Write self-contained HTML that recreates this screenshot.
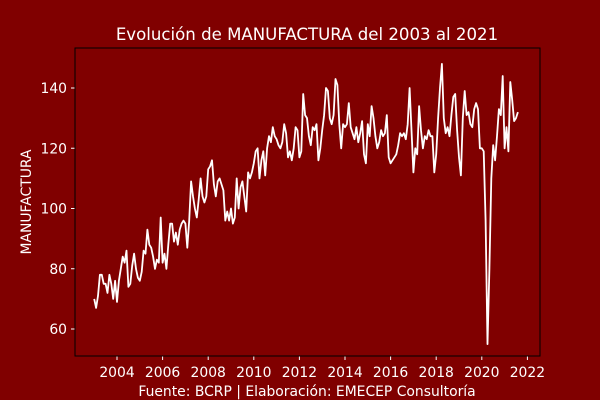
<!DOCTYPE html>
<html><head><meta charset="utf-8"><style>
body{margin:0;background:#800000;}
svg{display:block;font-family:"DejaVu Sans","Liberation Sans",sans-serif;}
</style></head><body>
<svg id="chart" width="600" height="400" viewBox="0 0 600 400">
<rect width="600" height="400" fill="#800000"/>
<text x="307" y="40" fill="#fff" font-size="16.6" text-anchor="middle">Evolución de MANUFACTURA del 2003 al 2021</text>
<text transform="translate(31,202) rotate(-90)" fill="#fff" font-size="13.9" text-anchor="middle">MANUFACTURA</text>
<text x="307" y="396" fill="#fff" font-size="13.9" text-anchor="middle">Fuente: BCRP | Elaboración: EMECEP Consultoría</text>
<g id="ticks"></g>
<polyline id="line" fill="none" stroke="#fff" stroke-width="1.8" stroke-linejoin="round"/>
<rect x="75" y="48" width="465" height="308" fill="none" stroke="#000" stroke-width="1"/>
</svg>
<script>
const startYear = 2003;
const values = [
70,67,71,78,78,75,75,72,78,75,70,76,
69,76,80,84,82,86,74,75,81,85,80,77,
76,79,86,85,93,88,87,84,80,83,82,97,
82,85,80,88,95,95,89,92,88,93,95,96,
95,87,96,109,104,100,97,103,110,104,102,104,
113,114,116,108,104,109,110,108,106,96,99,96,
100,95,97,110,100,107,109,104,99,112,110,112,
115,119,120,110,116,119,111,120,124,122,127,124,
123,121,120,122,128,125,117,119,116,120,127,126,
117,119,138,131,130,124,121,127,126,128,116,120,
126,131,140,139,130,128,131,143,141,128,120,128,
127,128,135,127,125,123,127,122,125,129,118,115,
128,124,134,130,124,120,122,126,124,125,131,117,
115,116,117,118,121,125,124,125,123,128,140,126,
112,120,118,134,126,120,124,123,126,124,124,112,
118,130,140,148,130,125,127,124,131,137,138,126,
117,111,130,139,131,132,128,127,133,135,133,120,
120,119,96,55,80,110,121,116,124,133,131,144,
120,127,119,142,136,129,130,132];
const xTicks = [2004,2006,2008,2010,2012,2014,2016,2018,2020,2022];
const yTicks = [60,80,100,120,140];
const xs = yr => 117 + (yr-2004)*22.8;
const ys = v => 88 + (140-v)*3.0125;
const NS="http://www.w3.org/2000/svg";
const pts = values.map((v,i)=>xs(startYear+i/12).toFixed(1)+","+ys(v).toFixed(1));
document.getElementById('line').setAttribute('points', pts.join(' '));
const g=document.getElementById('ticks');
xTicks.forEach(t=>{
 const l=document.createElementNS(NS,'line');
 
 
 l.setAttribute('x1',xs(t));l.setAttribute('x2',xs(t));l.setAttribute('y1',356);l.setAttribute('y2',360);l.setAttribute('stroke','#fff');
 g.appendChild(l);
 const tx=document.createElementNS(NS,'text');
 
 
 tx.setAttribute('x',xs(t));tx.setAttribute('y',377);tx.setAttribute('fill','#fff');tx.setAttribute('font-size','13.9');tx.setAttribute('text-anchor','middle');
 tx.textContent=t;g.appendChild(tx);
});
yTicks.forEach(t=>{
 const l=document.createElementNS(NS,'line');
 
 
 l.setAttribute('x1',71);l.setAttribute('x2',75);l.setAttribute('y1',ys(t));l.setAttribute('y2',ys(t));l.setAttribute('stroke','#fff');
 g.appendChild(l);
 const tx=document.createElementNS(NS,'text');
 
 
 tx.setAttribute('x',67);tx.setAttribute('y',ys(t)+5);tx.setAttribute('fill','#fff');tx.setAttribute('font-size','13.9');tx.setAttribute('text-anchor','end');
 tx.textContent=t;g.appendChild(tx);
});
</script>
</body></html>
